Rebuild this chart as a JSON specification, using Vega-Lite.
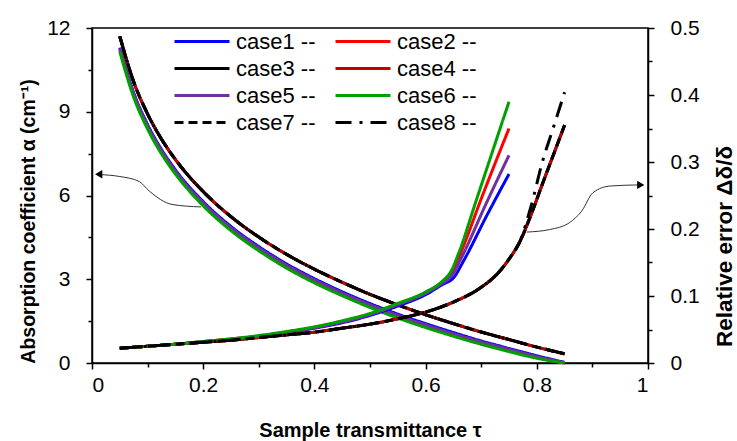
{
  "$schema": "https://vega.github.io/schema/vega-lite/v6.json",
  "width": 556,
  "height": 335,
  "autosize": {"type": "none"},
  "padding": {"left": 92, "top": 28, "right": 89, "bottom": 78},
  "background": "white",
  "config": {
    "view": {"stroke": "black", "strokeWidth": 1.5},
    "font": "Liberation Sans",
    "axis": {
      "grid": false,
      "domainColor": "black",
      "domainWidth": 1.5,
      "tickColor": "black",
      "tickWidth": 1.5,
      "labelColor": "black",
      "labelFont": "Liberation Sans",
      "labelFontSize": 21,
      "titleFont": "Liberation Sans",
      "titleFontSize": 20,
      "titleFontWeight": "bold",
      "titleColor": "black"
    }
  },
  "datasets": {
    "alpha": [
      {"case": "case1 --", "tau": 0.05, "alpha": 11.30}, {"case": "case1 --", "tau": 0.075, "alpha": 9.68}, {"case": "case1 --", "tau": 0.1, "alpha": 8.54}, {"case": "case1 --", "tau": 0.125, "alpha": 7.65}, {"case": "case1 --", "tau": 0.15, "alpha": 6.92}, {"case": "case1 --", "tau": 0.2, "alpha": 5.78}, {"case": "case1 --", "tau": 0.25, "alpha": 4.89}, {"case": "case1 --", "tau": 0.3, "alpha": 4.17}, {"case": "case1 --", "tau": 0.35, "alpha": 3.55}, {"case": "case1 --", "tau": 0.4, "alpha": 3.02}, {"case": "case1 --", "tau": 0.45, "alpha": 2.55}, {"case": "case1 --", "tau": 0.5, "alpha": 2.13}, {"case": "case1 --", "tau": 0.55, "alpha": 1.75}, {"case": "case1 --", "tau": 0.6, "alpha": 1.41}, {"case": "case1 --", "tau": 0.65, "alpha": 1.09}, {"case": "case1 --", "tau": 0.7, "alpha": 0.79}, {"case": "case1 --", "tau": 0.75, "alpha": 0.52}, {"case": "case1 --", "tau": 0.8, "alpha": 0.26}, {"case": "case1 --", "tau": 0.85, "alpha": 0.02},
      {"case": "case2 --", "tau": 0.05, "alpha": 11.22}, {"case": "case2 --", "tau": 0.075, "alpha": 9.59}, {"case": "case2 --", "tau": 0.1, "alpha": 8.45}, {"case": "case2 --", "tau": 0.125, "alpha": 7.56}, {"case": "case2 --", "tau": 0.15, "alpha": 6.83}, {"case": "case2 --", "tau": 0.2, "alpha": 5.69}, {"case": "case2 --", "tau": 0.25, "alpha": 4.80}, {"case": "case2 --", "tau": 0.3, "alpha": 4.08}, {"case": "case2 --", "tau": 0.35, "alpha": 3.46}, {"case": "case2 --", "tau": 0.4, "alpha": 2.93}, {"case": "case2 --", "tau": 0.45, "alpha": 2.47}, {"case": "case2 --", "tau": 0.5, "alpha": 2.05}, {"case": "case2 --", "tau": 0.55, "alpha": 1.67}, {"case": "case2 --", "tau": 0.6, "alpha": 1.33}, {"case": "case2 --", "tau": 0.65, "alpha": 1.01}, {"case": "case2 --", "tau": 0.7, "alpha": 0.72}, {"case": "case2 --", "tau": 0.75, "alpha": 0.46}, {"case": "case2 --", "tau": 0.8, "alpha": 0.20}, {"case": "case2 --", "tau": 0.85, "alpha": 0.0},
      {"case": "case3 --", "tau": 0.05, "alpha": 11.70}, {"case": "case3 --", "tau": 0.075, "alpha": 10.07}, {"case": "case3 --", "tau": 0.1, "alpha": 8.92}, {"case": "case3 --", "tau": 0.125, "alpha": 8.02}, {"case": "case3 --", "tau": 0.15, "alpha": 7.29}, {"case": "case3 --", "tau": 0.2, "alpha": 6.14}, {"case": "case3 --", "tau": 0.25, "alpha": 5.24}, {"case": "case3 --", "tau": 0.3, "alpha": 4.51}, {"case": "case3 --", "tau": 0.35, "alpha": 3.89}, {"case": "case3 --", "tau": 0.4, "alpha": 3.36}, {"case": "case3 --", "tau": 0.45, "alpha": 2.89}, {"case": "case3 --", "tau": 0.5, "alpha": 2.46}, {"case": "case3 --", "tau": 0.55, "alpha": 2.08}, {"case": "case3 --", "tau": 0.6, "alpha": 1.73}, {"case": "case3 --", "tau": 0.65, "alpha": 1.41}, {"case": "case3 --", "tau": 0.7, "alpha": 1.11}, {"case": "case3 --", "tau": 0.75, "alpha": 0.84}, {"case": "case3 --", "tau": 0.8, "alpha": 0.57}, {"case": "case3 --", "tau": 0.85, "alpha": 0.33},
      {"case": "case4 --", "tau": 0.05, "alpha": 11.70}, {"case": "case4 --", "tau": 0.075, "alpha": 10.07}, {"case": "case4 --", "tau": 0.1, "alpha": 8.92}, {"case": "case4 --", "tau": 0.125, "alpha": 8.02}, {"case": "case4 --", "tau": 0.15, "alpha": 7.29}, {"case": "case4 --", "tau": 0.2, "alpha": 6.14}, {"case": "case4 --", "tau": 0.25, "alpha": 5.24}, {"case": "case4 --", "tau": 0.3, "alpha": 4.51}, {"case": "case4 --", "tau": 0.35, "alpha": 3.89}, {"case": "case4 --", "tau": 0.4, "alpha": 3.36}, {"case": "case4 --", "tau": 0.45, "alpha": 2.89}, {"case": "case4 --", "tau": 0.5, "alpha": 2.46}, {"case": "case4 --", "tau": 0.55, "alpha": 2.08}, {"case": "case4 --", "tau": 0.6, "alpha": 1.73}, {"case": "case4 --", "tau": 0.65, "alpha": 1.41}, {"case": "case4 --", "tau": 0.7, "alpha": 1.11}, {"case": "case4 --", "tau": 0.75, "alpha": 0.84}, {"case": "case4 --", "tau": 0.8, "alpha": 0.57}, {"case": "case4 --", "tau": 0.85, "alpha": 0.33},
      {"case": "case5 --", "tau": 0.05, "alpha": 11.27}, {"case": "case5 --", "tau": 0.075, "alpha": 9.64}, {"case": "case5 --", "tau": 0.1, "alpha": 8.50}, {"case": "case5 --", "tau": 0.125, "alpha": 7.61}, {"case": "case5 --", "tau": 0.15, "alpha": 6.88}, {"case": "case5 --", "tau": 0.2, "alpha": 5.74}, {"case": "case5 --", "tau": 0.25, "alpha": 4.85}, {"case": "case5 --", "tau": 0.3, "alpha": 4.13}, {"case": "case5 --", "tau": 0.35, "alpha": 3.51}, {"case": "case5 --", "tau": 0.4, "alpha": 2.98}, {"case": "case5 --", "tau": 0.45, "alpha": 2.51}, {"case": "case5 --", "tau": 0.5, "alpha": 2.09}, {"case": "case5 --", "tau": 0.55, "alpha": 1.71}, {"case": "case5 --", "tau": 0.6, "alpha": 1.37}, {"case": "case5 --", "tau": 0.65, "alpha": 1.05}, {"case": "case5 --", "tau": 0.7, "alpha": 0.76}, {"case": "case5 --", "tau": 0.75, "alpha": 0.49}, {"case": "case5 --", "tau": 0.8, "alpha": 0.23}, {"case": "case5 --", "tau": 0.85, "alpha": 0.01},
      {"case": "case6 --", "tau": 0.05, "alpha": 11.15}, {"case": "case6 --", "tau": 0.075, "alpha": 9.52}, {"case": "case6 --", "tau": 0.1, "alpha": 8.38}, {"case": "case6 --", "tau": 0.125, "alpha": 7.49}, {"case": "case6 --", "tau": 0.15, "alpha": 6.77}, {"case": "case6 --", "tau": 0.2, "alpha": 5.63}, {"case": "case6 --", "tau": 0.25, "alpha": 4.74}, {"case": "case6 --", "tau": 0.3, "alpha": 4.02}, {"case": "case6 --", "tau": 0.35, "alpha": 3.40}, {"case": "case6 --", "tau": 0.4, "alpha": 2.87}, {"case": "case6 --", "tau": 0.45, "alpha": 2.41}, {"case": "case6 --", "tau": 0.5, "alpha": 1.99}, {"case": "case6 --", "tau": 0.55, "alpha": 1.61}, {"case": "case6 --", "tau": 0.6, "alpha": 1.27}, {"case": "case6 --", "tau": 0.65, "alpha": 0.96}, {"case": "case6 --", "tau": 0.7, "alpha": 0.67}, {"case": "case6 --", "tau": 0.75, "alpha": 0.41}, {"case": "case6 --", "tau": 0.8, "alpha": 0.17}, {"case": "case6 --", "tau": 0.85, "alpha": 0.0},
      {"case": "case7 --", "tau": 0.05, "alpha": 11.70}, {"case": "case7 --", "tau": 0.075, "alpha": 10.07}, {"case": "case7 --", "tau": 0.1, "alpha": 8.92}, {"case": "case7 --", "tau": 0.125, "alpha": 8.02}, {"case": "case7 --", "tau": 0.15, "alpha": 7.29}, {"case": "case7 --", "tau": 0.2, "alpha": 6.14}, {"case": "case7 --", "tau": 0.25, "alpha": 5.24}, {"case": "case7 --", "tau": 0.3, "alpha": 4.51}, {"case": "case7 --", "tau": 0.35, "alpha": 3.89}, {"case": "case7 --", "tau": 0.4, "alpha": 3.36}, {"case": "case7 --", "tau": 0.45, "alpha": 2.89}, {"case": "case7 --", "tau": 0.5, "alpha": 2.46}, {"case": "case7 --", "tau": 0.55, "alpha": 2.08}, {"case": "case7 --", "tau": 0.6, "alpha": 1.73}, {"case": "case7 --", "tau": 0.65, "alpha": 1.41}, {"case": "case7 --", "tau": 0.7, "alpha": 1.11}, {"case": "case7 --", "tau": 0.75, "alpha": 0.84}, {"case": "case7 --", "tau": 0.8, "alpha": 0.57}, {"case": "case7 --", "tau": 0.85, "alpha": 0.33},
      {"case": "case8 --", "tau": 0.05, "alpha": 11.70}, {"case": "case8 --", "tau": 0.075, "alpha": 10.07}, {"case": "case8 --", "tau": 0.1, "alpha": 8.92}, {"case": "case8 --", "tau": 0.125, "alpha": 8.02}, {"case": "case8 --", "tau": 0.15, "alpha": 7.29}, {"case": "case8 --", "tau": 0.2, "alpha": 6.14}, {"case": "case8 --", "tau": 0.25, "alpha": 5.24}, {"case": "case8 --", "tau": 0.3, "alpha": 4.51}, {"case": "case8 --", "tau": 0.35, "alpha": 3.89}, {"case": "case8 --", "tau": 0.4, "alpha": 3.36}, {"case": "case8 --", "tau": 0.45, "alpha": 2.89}, {"case": "case8 --", "tau": 0.5, "alpha": 2.46}, {"case": "case8 --", "tau": 0.55, "alpha": 2.08}, {"case": "case8 --", "tau": 0.6, "alpha": 1.73}, {"case": "case8 --", "tau": 0.65, "alpha": 1.41}, {"case": "case8 --", "tau": 0.7, "alpha": 1.11}, {"case": "case8 --", "tau": 0.75, "alpha": 0.84}, {"case": "case8 --", "tau": 0.8, "alpha": 0.57}, {"case": "case8 --", "tau": 0.85, "alpha": 0.33}
    ],
    "err": [
      {"case": "case1 --", "tau": 0.05, "err": 0.022}, {"case": "case1 --", "tau": 0.1, "err": 0.025}, {"case": "case1 --", "tau": 0.15, "err": 0.028}, {"case": "case1 --", "tau": 0.2, "err": 0.031}, {"case": "case1 --", "tau": 0.25, "err": 0.035}, {"case": "case1 --", "tau": 0.3, "err": 0.039}, {"case": "case1 --", "tau": 0.35, "err": 0.045}, {"case": "case1 --", "tau": 0.4, "err": 0.052}, {"case": "case1 --", "tau": 0.45, "err": 0.060}, {"case": "case1 --", "tau": 0.5, "err": 0.071}, {"case": "case1 --", "tau": 0.55, "err": 0.085}, {"case": "case1 --", "tau": 0.6, "err": 0.102}, {"case": "case1 --", "tau": 0.63, "err": 0.117}, {"case": "case1 --", "tau": 0.65, "err": 0.127}, {"case": "case1 --", "tau": 0.67, "err": 0.155}, {"case": "case1 --", "tau": 0.71, "err": 0.220}, {"case": "case1 --", "tau": 0.75, "err": 0.282},
      {"case": "case2 --", "tau": 0.05, "err": 0.022}, {"case": "case2 --", "tau": 0.1, "err": 0.025}, {"case": "case2 --", "tau": 0.15, "err": 0.028}, {"case": "case2 --", "tau": 0.2, "err": 0.032}, {"case": "case2 --", "tau": 0.25, "err": 0.036}, {"case": "case2 --", "tau": 0.3, "err": 0.040}, {"case": "case2 --", "tau": 0.35, "err": 0.046}, {"case": "case2 --", "tau": 0.4, "err": 0.053}, {"case": "case2 --", "tau": 0.45, "err": 0.062}, {"case": "case2 --", "tau": 0.5, "err": 0.073}, {"case": "case2 --", "tau": 0.55, "err": 0.088}, {"case": "case2 --", "tau": 0.6, "err": 0.105}, {"case": "case2 --", "tau": 0.63, "err": 0.121}, {"case": "case2 --", "tau": 0.647, "err": 0.134}, {"case": "case2 --", "tau": 0.665, "err": 0.168}, {"case": "case2 --", "tau": 0.7, "err": 0.245}, {"case": "case2 --", "tau": 0.75, "err": 0.350},
      {"case": "case3 --", "tau": 0.05, "err": 0.022}, {"case": "case3 --", "tau": 0.1, "err": 0.025}, {"case": "case3 --", "tau": 0.15, "err": 0.028}, {"case": "case3 --", "tau": 0.2, "err": 0.031}, {"case": "case3 --", "tau": 0.25, "err": 0.034}, {"case": "case3 --", "tau": 0.3, "err": 0.038}, {"case": "case3 --", "tau": 0.35, "err": 0.042}, {"case": "case3 --", "tau": 0.4, "err": 0.046}, {"case": "case3 --", "tau": 0.45, "err": 0.052}, {"case": "case3 --", "tau": 0.5, "err": 0.058}, {"case": "case3 --", "tau": 0.55, "err": 0.066}, {"case": "case3 --", "tau": 0.6, "err": 0.076}, {"case": "case3 --", "tau": 0.65, "err": 0.091}, {"case": "case3 --", "tau": 0.7, "err": 0.113}, {"case": "case3 --", "tau": 0.73, "err": 0.134}, {"case": "case3 --", "tau": 0.75, "err": 0.155}, {"case": "case3 --", "tau": 0.77, "err": 0.182}, {"case": "case3 --", "tau": 0.79, "err": 0.222}, {"case": "case3 --", "tau": 0.81, "err": 0.267}, {"case": "case3 --", "tau": 0.83, "err": 0.311}, {"case": "case3 --", "tau": 0.85, "err": 0.355},
      {"case": "case4 --", "tau": 0.05, "err": 0.022}, {"case": "case4 --", "tau": 0.1, "err": 0.025}, {"case": "case4 --", "tau": 0.15, "err": 0.028}, {"case": "case4 --", "tau": 0.2, "err": 0.031}, {"case": "case4 --", "tau": 0.25, "err": 0.034}, {"case": "case4 --", "tau": 0.3, "err": 0.038}, {"case": "case4 --", "tau": 0.35, "err": 0.042}, {"case": "case4 --", "tau": 0.4, "err": 0.046}, {"case": "case4 --", "tau": 0.45, "err": 0.052}, {"case": "case4 --", "tau": 0.5, "err": 0.058}, {"case": "case4 --", "tau": 0.55, "err": 0.066}, {"case": "case4 --", "tau": 0.6, "err": 0.076}, {"case": "case4 --", "tau": 0.65, "err": 0.091}, {"case": "case4 --", "tau": 0.7, "err": 0.113}, {"case": "case4 --", "tau": 0.73, "err": 0.134}, {"case": "case4 --", "tau": 0.75, "err": 0.155}, {"case": "case4 --", "tau": 0.77, "err": 0.182}, {"case": "case4 --", "tau": 0.79, "err": 0.222}, {"case": "case4 --", "tau": 0.81, "err": 0.267}, {"case": "case4 --", "tau": 0.83, "err": 0.311}, {"case": "case4 --", "tau": 0.85, "err": 0.355},
      {"case": "case5 --", "tau": 0.05, "err": 0.022}, {"case": "case5 --", "tau": 0.1, "err": 0.025}, {"case": "case5 --", "tau": 0.15, "err": 0.028}, {"case": "case5 --", "tau": 0.2, "err": 0.032}, {"case": "case5 --", "tau": 0.25, "err": 0.035}, {"case": "case5 --", "tau": 0.3, "err": 0.040}, {"case": "case5 --", "tau": 0.35, "err": 0.046}, {"case": "case5 --", "tau": 0.4, "err": 0.053}, {"case": "case5 --", "tau": 0.45, "err": 0.061}, {"case": "case5 --", "tau": 0.5, "err": 0.072}, {"case": "case5 --", "tau": 0.55, "err": 0.087}, {"case": "case5 --", "tau": 0.6, "err": 0.104}, {"case": "case5 --", "tau": 0.63, "err": 0.119}, {"case": "case5 --", "tau": 0.648, "err": 0.131}, {"case": "case5 --", "tau": 0.665, "err": 0.158}, {"case": "case5 --", "tau": 0.71, "err": 0.240}, {"case": "case5 --", "tau": 0.75, "err": 0.310},
      {"case": "case6 --", "tau": 0.05, "err": 0.022}, {"case": "case6 --", "tau": 0.1, "err": 0.025}, {"case": "case6 --", "tau": 0.15, "err": 0.028}, {"case": "case6 --", "tau": 0.2, "err": 0.032}, {"case": "case6 --", "tau": 0.25, "err": 0.036}, {"case": "case6 --", "tau": 0.3, "err": 0.041}, {"case": "case6 --", "tau": 0.35, "err": 0.047}, {"case": "case6 --", "tau": 0.4, "err": 0.054}, {"case": "case6 --", "tau": 0.45, "err": 0.063}, {"case": "case6 --", "tau": 0.5, "err": 0.074}, {"case": "case6 --", "tau": 0.55, "err": 0.089}, {"case": "case6 --", "tau": 0.6, "err": 0.106}, {"case": "case6 --", "tau": 0.63, "err": 0.122}, {"case": "case6 --", "tau": 0.645, "err": 0.136}, {"case": "case6 --", "tau": 0.66, "err": 0.165}, {"case": "case6 --", "tau": 0.69, "err": 0.240}, {"case": "case6 --", "tau": 0.75, "err": 0.390},
      {"case": "case7 --", "tau": 0.05, "err": 0.022}, {"case": "case7 --", "tau": 0.1, "err": 0.025}, {"case": "case7 --", "tau": 0.15, "err": 0.028}, {"case": "case7 --", "tau": 0.2, "err": 0.031}, {"case": "case7 --", "tau": 0.25, "err": 0.034}, {"case": "case7 --", "tau": 0.3, "err": 0.038}, {"case": "case7 --", "tau": 0.35, "err": 0.042}, {"case": "case7 --", "tau": 0.4, "err": 0.046}, {"case": "case7 --", "tau": 0.45, "err": 0.052}, {"case": "case7 --", "tau": 0.5, "err": 0.058}, {"case": "case7 --", "tau": 0.55, "err": 0.066}, {"case": "case7 --", "tau": 0.6, "err": 0.076}, {"case": "case7 --", "tau": 0.65, "err": 0.091}, {"case": "case7 --", "tau": 0.7, "err": 0.113}, {"case": "case7 --", "tau": 0.73, "err": 0.134}, {"case": "case7 --", "tau": 0.75, "err": 0.155}, {"case": "case7 --", "tau": 0.77, "err": 0.182}, {"case": "case7 --", "tau": 0.79, "err": 0.222}, {"case": "case7 --", "tau": 0.81, "err": 0.267}, {"case": "case7 --", "tau": 0.83, "err": 0.311}, {"case": "case7 --", "tau": 0.85, "err": 0.355},
      {"case": "case8 --", "tau": 0.05, "err": 0.022}, {"case": "case8 --", "tau": 0.1, "err": 0.025}, {"case": "case8 --", "tau": 0.15, "err": 0.028}, {"case": "case8 --", "tau": 0.2, "err": 0.031}, {"case": "case8 --", "tau": 0.25, "err": 0.034}, {"case": "case8 --", "tau": 0.3, "err": 0.038}, {"case": "case8 --", "tau": 0.35, "err": 0.042}, {"case": "case8 --", "tau": 0.4, "err": 0.046}, {"case": "case8 --", "tau": 0.45, "err": 0.052}, {"case": "case8 --", "tau": 0.5, "err": 0.058}, {"case": "case8 --", "tau": 0.55, "err": 0.066}, {"case": "case8 --", "tau": 0.6, "err": 0.076}, {"case": "case8 --", "tau": 0.65, "err": 0.091}, {"case": "case8 --", "tau": 0.7, "err": 0.113}, {"case": "case8 --", "tau": 0.73, "err": 0.134}, {"case": "case8 --", "tau": 0.75, "err": 0.155}, {"case": "case8 --", "tau": 0.77, "err": 0.182}, {"case": "case8 --", "tau": 0.79, "err": 0.235}, {"case": "case8 --", "tau": 0.81, "err": 0.300}, {"case": "case8 --", "tau": 0.83, "err": 0.352}, {"case": "case8 --", "tau": 0.85, "err": 0.404}
    ],
    "arrows": [
      {"arrow": "left", "tau": 0.014, "alpha": 6.75}, {"arrow": "left", "tau": 0.05, "alpha": 6.68}, {"arrow": "left", "tau": 0.085, "alpha": 6.50}, {"arrow": "left", "tau": 0.103, "alpha": 6.16}, {"arrow": "left", "tau": 0.144, "alpha": 5.68}, {"arrow": "left", "tau": 0.196, "alpha": 5.59},
      {"arrow": "right", "tau": 0.782, "alpha": 4.69}, {"arrow": "right", "tau": 0.823, "alpha": 4.78}, {"arrow": "right", "tau": 0.859, "alpha": 5.03}, {"arrow": "right", "tau": 0.881, "alpha": 5.45}, {"arrow": "right", "tau": 0.901, "alpha": 6.10}, {"arrow": "right", "tau": 0.932, "alpha": 6.34}, {"arrow": "right", "tau": 0.985, "alpha": 6.38}
    ],
    "heads": [
      {"arrow": "left", "tau": 0.012, "alpha": 6.76, "shape": "triangle-left"},
      {"arrow": "right", "tau": 0.987, "alpha": 6.38, "shape": "triangle-right"}
    ]
  },
  "layer": [
    {
      "layer": [
        {
          "data": {"name": "alpha"},
          "mark": {"type": "line", "strokeWidth": 3, "interpolate": "monotone"},
          "encoding": {
            "x": {
              "field": "tau", "type": "quantitative",
              "scale": {"domain": [0, 1], "nice": false},
              "axis": {
                "title": "Sample transmittance τ",
                "values": [0, 0.05, 0.1, 0.15, 0.2, 0.25, 0.3, 0.35, 0.4, 0.45, 0.5, 0.55, 0.6, 0.65, 0.7, 0.75, 0.8, 0.85, 0.9, 0.95, 1],
                "labelExpr": "round(datum.value*20)%4===0 ? format(datum.value, '~g') : ''",
                "tickSize": {"condition": {"test": "round(datum.value*20)%4===0", "value": 6}, "value": 4},
                "labelPadding": 5,
                "titleY": 73,
                "titleBaseline": "alphabetic"
              }
            },
            "y": {
              "field": "alpha", "type": "quantitative",
              "scale": {"domain": [0, 12], "nice": false},
              "axis": {
                "title": "Absorption coefficient α (cm⁻¹)",
                "titleFontSize": 19.5,
                "values": [0, 1.5, 3, 4.5, 6, 7.5, 9, 10.5, 12],
                "labelExpr": "round(datum.value/1.5)%2===0 ? format(datum.value, '~g') : ''",
                "tickSize": {"condition": {"test": "round(datum.value/1.5)%2===0", "value": 6}, "value": 4},
                "labelPadding": 16,
                "titleAngle": 270,
                "titleX": -58,
                "titleY": 193,
                "titleAlign": "center",
                "titleBaseline": "alphabetic"
              }
            },
            "color": {
              "field": "case", "type": "nominal",
              "scale": {
                "domain": ["case1 --", "case2 --", "case3 --", "case4 --", "case5 --", "case6 --", "case7 --", "case8 --"],
                "range": ["#0000FF", "#FF0000", "#000000", "#C00000", "#7030A0", "#00A000", "#000000", "#000000"]
              },
              "legend": {
                "orient": "none", "legendX": 81, "legendY": 1.5, "columns": 2, "direction": "horizontal", "title": null,
                "symbolType": "stroke", "symbolSize": 3025, "symbolStrokeWidth": 3, "clipHeight": 24,
                "labelFontSize": 22, "labelFont": "Liberation Sans", "labelColor": "black",
                "rowPadding": 3, "columnPadding": 18, "labelOffset": 5
              }
            },
            "strokeDash": {
              "field": "case", "type": "nominal",
              "scale": {
                "domain": ["case1 --", "case2 --", "case3 --", "case4 --", "case5 --", "case6 --", "case7 --", "case8 --"],
                "range": [[1, 0], [1, 0], [1, 0], [1, 0], [1, 0], [1, 0], [9, 5], [16, 8, 3, 8]]
              },
              "legend": {
                "orient": "none", "legendX": 81, "legendY": 1.5, "columns": 2, "direction": "horizontal", "title": null,
                "symbolType": "stroke", "symbolSize": 3025, "symbolStrokeWidth": 3, "clipHeight": 24,
                "labelFontSize": 22, "labelFont": "Liberation Sans", "labelColor": "black",
                "rowPadding": 3, "columnPadding": 18, "labelOffset": 5
              }
            }
          }
        },
        {
          "data": {"name": "arrows"},
          "mark": {"type": "line", "color": "#333333", "strokeWidth": 1, "interpolate": "monotone"},
          "encoding": {
            "x": {"field": "tau", "type": "quantitative"},
            "y": {"field": "alpha", "type": "quantitative"},
            "detail": {"field": "arrow"}
          }
        },
        {
          "data": {"name": "heads"},
          "mark": {"type": "point", "filled": true, "color": "black", "size": 70, "opacity": 1},
          "encoding": {
            "x": {"field": "tau", "type": "quantitative"},
            "y": {"field": "alpha", "type": "quantitative"},
            "shape": {"field": "shape", "type": "nominal", "scale": null}
          }
        }
      ]
    },
    {
      "data": {"name": "err"},
      "mark": {"type": "line", "strokeWidth": 3, "interpolate": "monotone"},
      "encoding": {
        "x": {"field": "tau", "type": "quantitative"},
        "y": {
          "field": "err", "type": "quantitative",
          "scale": {"domain": [0, 0.5], "nice": false},
          "axis": {
            "orient": "right",
            "title": "Relative error Δδ/δ",
            "titleFontSize": 22.5,
            "values": [0, 0.05, 0.1, 0.15, 0.2, 0.25, 0.3, 0.35, 0.4, 0.45, 0.5],
            "labelExpr": "round(datum.value*20)%2===0 ? format(datum.value, '~g') : ''",
            "tickSize": {"condition": {"test": "round(datum.value*20)%2===0", "value": 6}, "value": 4},
            "labelPadding": 16,
            "titleAngle": 270,
            "titleX": 83,
            "titleY": 218,
            "titleAlign": "center",
            "titleBaseline": "alphabetic"
          }
        },
        "color": {"field": "case", "type": "nominal"},
        "strokeDash": {"field": "case", "type": "nominal"}
      }
    }
  ],
  "resolve": {"scale": {"y": "independent"}}
}
